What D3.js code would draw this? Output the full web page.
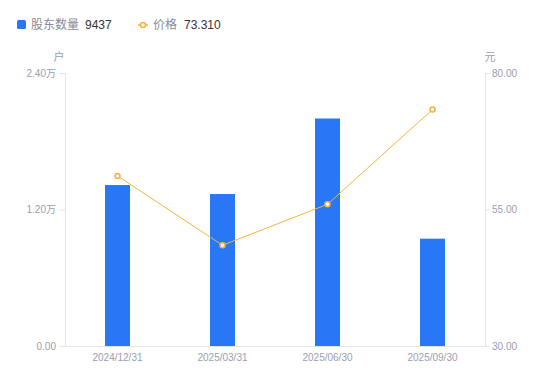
<!DOCTYPE html>
<html>
<head>
<meta charset="utf-8">
<script src="https://cdn.jsdelivr.net/npm/d3@7"></script>
<style>
  body { margin: 0; background: #fff; }
  text { font-family: "Liberation Sans", Arial, "Noto Sans CJK SC", sans-serif; }
</style>
</head>
<body>
<div class="chart"></div>
<script>
// data
var dates = ["2024/12/31", "2025/03/31", "2025/06/30", "2025/09/30"];
var holders = [14150, 13360, 20000, 9437];
var prices = [61.15, 48.45, 55.95, 73.31];
var leftTicks = [0, 12000, 24000];
var rightTicks = [30, 55, 80];

var width = 550, height = 381;
// plot box (note: "top" is reserved on window, so use other names)
var plotL = 65, plotR = 485, plotT = 73, plotB = 346;
var blue = "#2878f6", orange = "#f7b23b", axisColor = "#e3e3e8", tickText = "#9b9db0";

var svg = d3.select('.chart')
    .append('svg')
    .attr('width', width)
    .attr('height', height);

var x = d3.scaleBand().domain(dates).range([plotL, plotR]);
var yLeft = d3.scaleLinear().domain([0, 24000]).range([plotB, plotT]);
var yRight = d3.scaleLinear().domain([30, 80]).range([plotB, plotT]);

function fmtLeft(v) {
    return v === 0 ? "0.00" : (v / 10000).toFixed(2) + "万";
}

// left axis
var gl = svg.append('g')
    .attr('transform', 'translate(' + plotL + ',0)')
    .call(d3.axisLeft(yLeft).tickValues(leftTicks).tickFormat(fmtLeft).tickSize(5).tickPadding(4));
// right axis
var gr = svg.append('g')
    .attr('transform', 'translate(' + plotR + ',0)')
    .call(d3.axisRight(yRight).tickValues(rightTicks).tickFormat(d3.format(".2f")).tickSize(5).tickPadding(2));
// bottom axis
var gb = svg.append('g')
    .attr('transform', 'translate(0,' + plotB + ')')
    .call(d3.axisBottom(x).tickSize(0).tickPadding(8));

[gl, gr, gb].forEach(function(g) {
    g.selectAll('path').attr('stroke', axisColor);
    g.selectAll('line').attr('stroke', axisColor);
    g.selectAll('text').attr('fill', tickText).style('font-size', '10px');
});

// unit labels
svg.append('text').attr('x', 59).attr('y', 61).attr('text-anchor', 'middle')
    .attr('fill', tickText).style('font-size', '11px').text('户');
svg.append('text').attr('x', 490).attr('y', 61).attr('text-anchor', 'middle')
    .attr('fill', tickText).style('font-size', '11px').text('元');

// bars
var barW = 25;
svg.append('g').selectAll('rect')
    .data(holders)
    .enter()
    .append('rect')
    .attr('x', function(d, i) { return x(dates[i]) + x.bandwidth() / 2 - barW / 2; })
    .attr('y', function(d) { return yLeft(d); })
    .attr('width', barW)
    .attr('height', function(d) { return plotB - yLeft(d); })
    .attr('fill', blue);

// price line
var line = d3.line()
    .x(function(d, i) { return x(dates[i]) + x.bandwidth() / 2; })
    .y(function(d) { return yRight(d); });
svg.append('path')
    .datum(prices)
    .attr('d', line)
    .attr('fill', 'none')
    .attr('stroke', orange)
    .attr('stroke-width', 1);
svg.append('g').selectAll('circle')
    .data(prices)
    .enter()
    .append('circle')
    .attr('cx', function(d, i) { return x(dates[i]) + x.bandwidth() / 2; })
    .attr('cy', function(d) { return yRight(d); })
    .attr('r', 2.5)
    .attr('fill', '#fff')
    .attr('stroke', orange)
    .attr('stroke-width', 1.5);

// legend
var lg = svg.append('g').style('font-size', '12px');
lg.append('rect').attr('x', 17).attr('y', 20).attr('width', 9).attr('height', 9).attr('rx', 1.5).attr('fill', blue);
lg.append('text').attr('x', 31).attr('y', 29).attr('fill', '#888a99').text('股东数量');
lg.append('text').attr('x', 85).attr('y', 29).attr('fill', '#333').text(holders[holders.length - 1]);
lg.append('line').attr('x1', 138).attr('x2', 148).attr('y1', 25).attr('y2', 25).attr('stroke', orange).attr('stroke-width', 1.5);
lg.append('circle').attr('cx', 143).attr('cy', 25).attr('r', 2.5).attr('fill', '#fff').attr('stroke', orange).attr('stroke-width', 1.5);
lg.append('text').attr('x', 153).attr('y', 29).attr('fill', '#888a99').text('价格');
lg.append('text').attr('x', 184).attr('y', 29).attr('fill', '#333').text(prices[prices.length - 1].toFixed(3));
</script>
</body>
</html>
